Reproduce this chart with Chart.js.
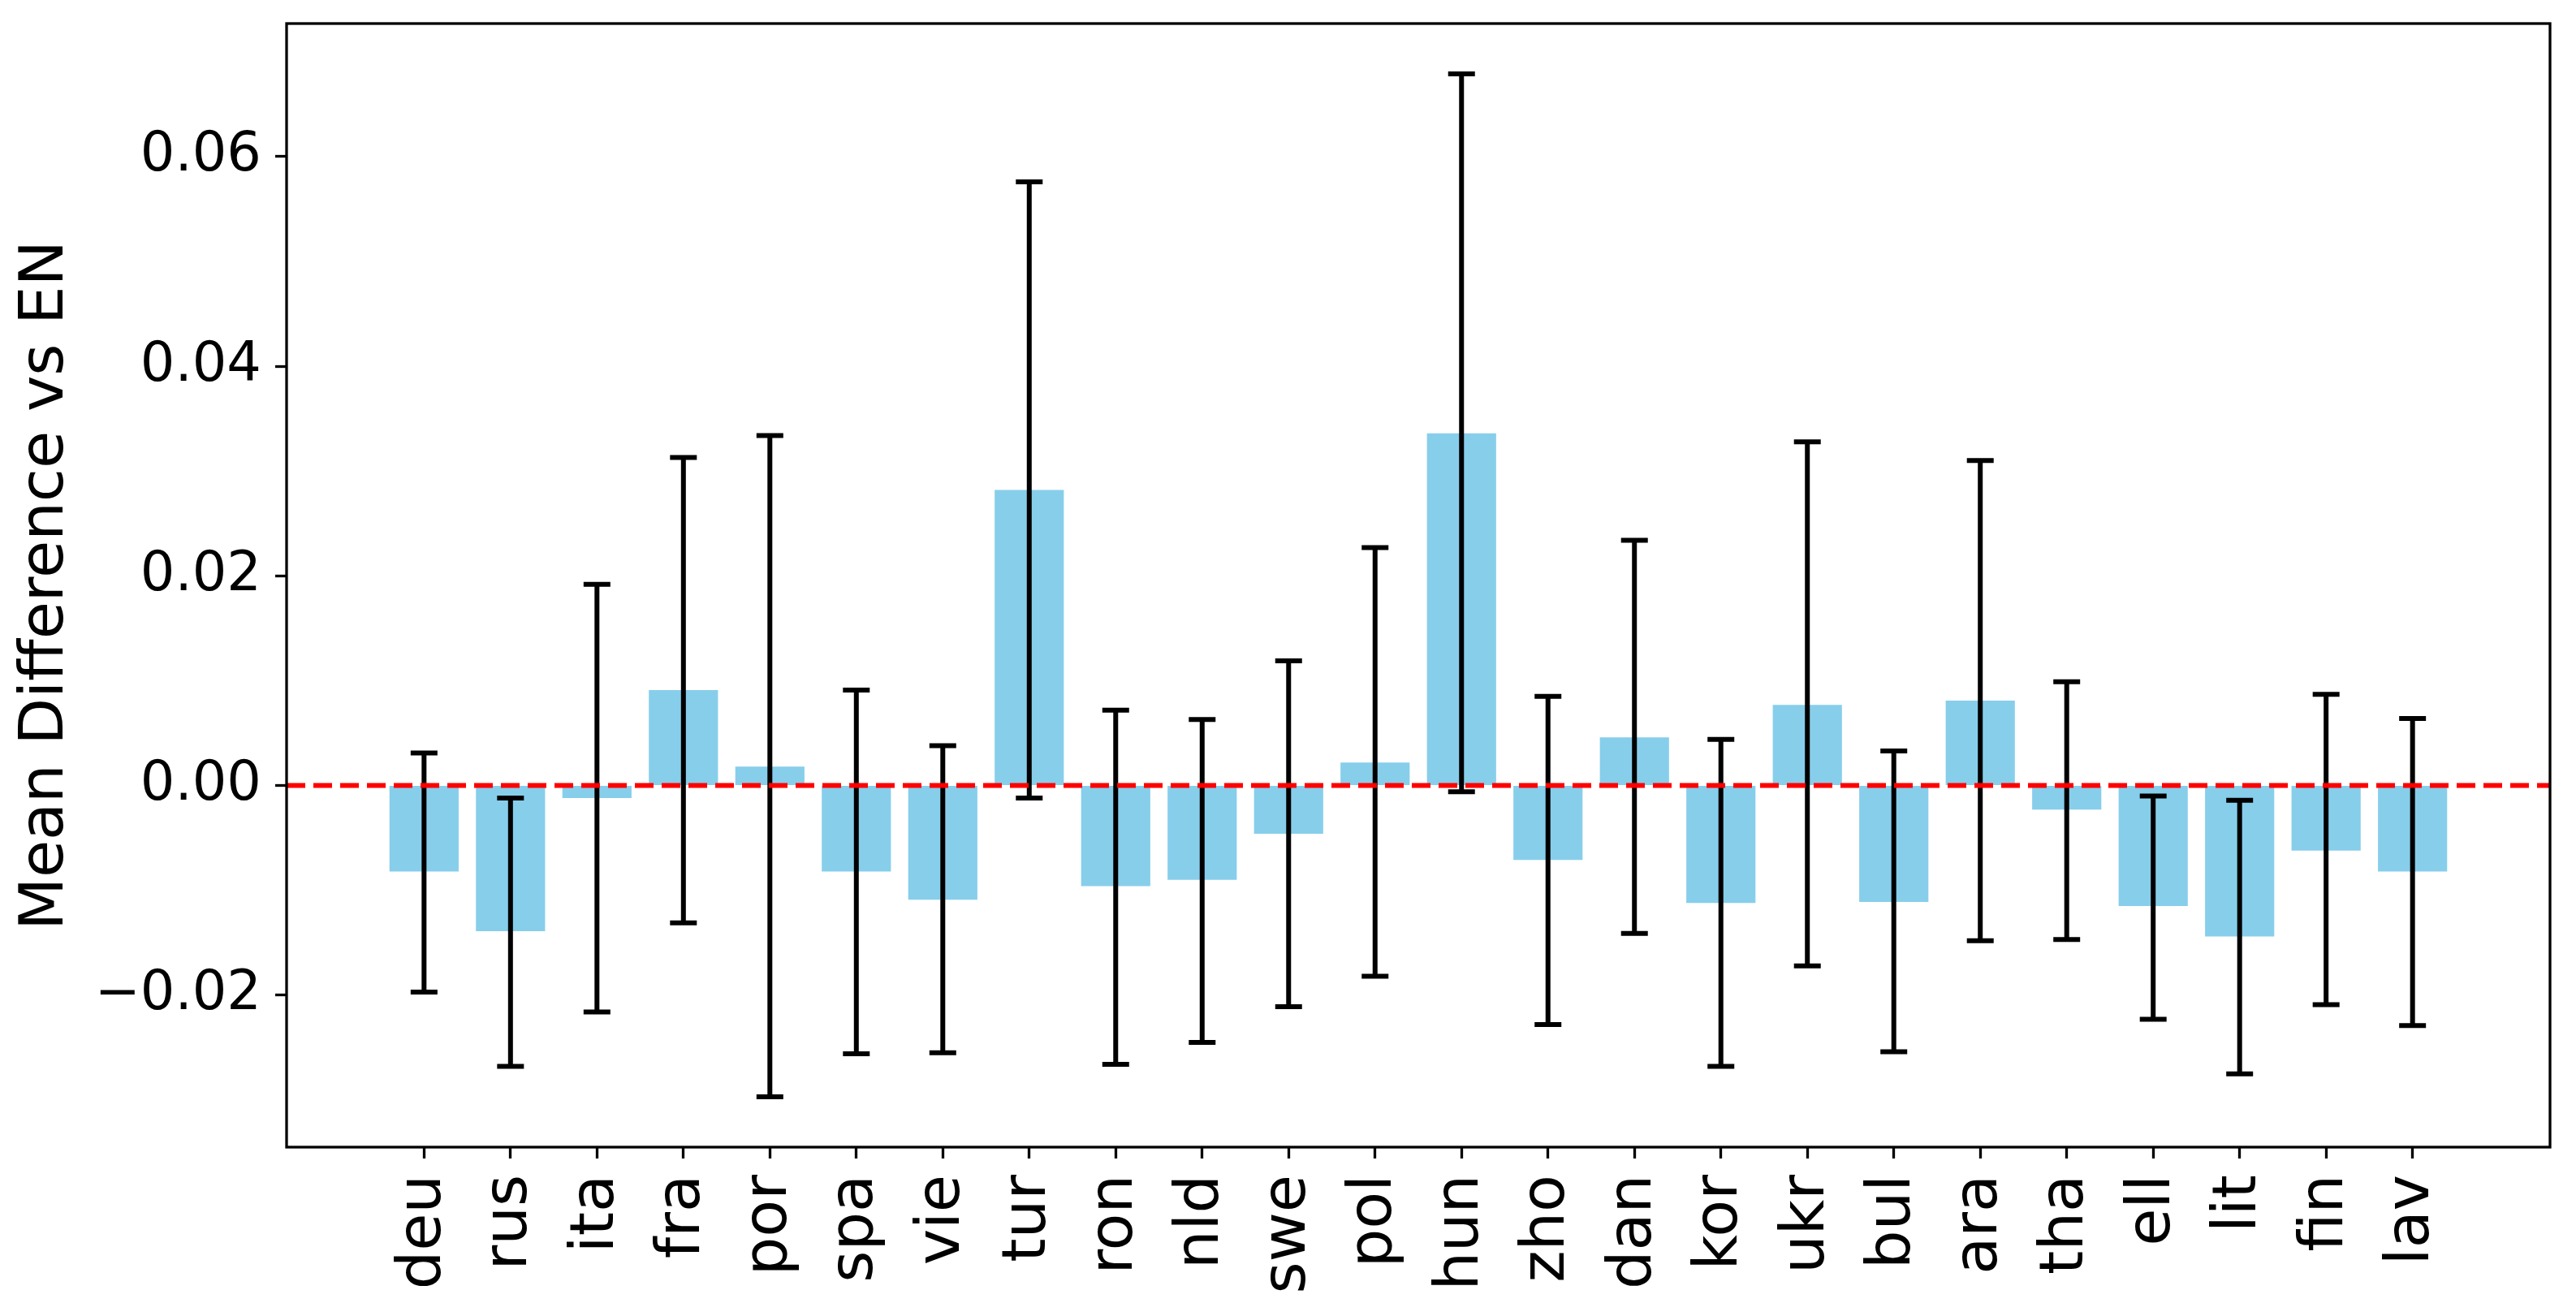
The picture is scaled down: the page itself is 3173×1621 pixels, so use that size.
<!DOCTYPE html>
<html>
<head>
<meta charset="utf-8">
<script src="https://cdn.jsdelivr.net/npm/chart.js@4"></script>
<style>
  html, body { margin: 0; padding: 0; background: #fff; }
  #wrap { width: 3173px; height: 1621px; }
</style>
</head>
<body>
<div id="wrap"><canvas id="myChart" width="3173" height="1621"></canvas></div>
<script>
const langs = ['deu', 'rus', 'ita', 'fra', 'por', 'spa', 'vie', 'tur', 'ron', 'nld', 'swe', 'pol',
               'hun', 'zho', 'dan', 'kor', 'ukr', 'bul', 'ara', 'tha', 'ell', 'lit', 'fin', 'lav'];
const means = [-0.0082, -0.0139, -0.0012, 0.0091, 0.0018, -0.0082, -0.0109, 0.0282, -0.0096, -0.0090, -0.0046, 0.0022,
               0.0336, -0.0071, 0.0046, -0.0112, 0.0077, -0.0111, 0.0081, -0.0023, -0.0115, -0.0144, -0.0062, -0.0082];
const upper = [0.0031, -0.0012, 0.0192, 0.0313, 0.0334, 0.0091, 0.0038, 0.0576, 0.0072, 0.0063, 0.0119, 0.0227,
               0.0679, 0.0085, 0.0234, 0.0044, 0.0328, 0.0033, 0.0310, 0.0099, -0.0010, -0.0014, 0.0087, 0.0064];
const lower = [-0.0197, -0.0268, -0.0216, -0.0131, -0.0297, -0.0256, -0.0255, -0.0012, -0.0266, -0.0245, -0.0211, -0.0182,
               -0.0006, -0.0228, -0.0141, -0.0268, -0.0172, -0.0254, -0.0148, -0.0147, -0.0223, -0.0275, -0.0209, -0.0229];
const yTickValues = [-0.02, 0, 0.02, 0.04, 0.06];
const yTickLabels = ['\u22120.02', '0.00', '0.02', '0.04', '0.06'];

// error bars, zero line and frame
const extras = {
    id: 'extras',
    afterDatasetsDraw(chart) {
        const ctx = chart.ctx;
        const xs = chart.scales.x, ys = chart.scales.y;
        const area = chart.chartArea;
        ctx.save();
        ctx.strokeStyle = '#000';
        ctx.lineWidth = 6;
        const cap = 16.5;
        for (let i = 0; i < langs.length; i++) {
            const x = xs.getPixelForValue(i);
            const yt = ys.getPixelForValue(upper[i]);
            const yb = ys.getPixelForValue(lower[i]);
            ctx.beginPath();
            ctx.moveTo(x, yt); ctx.lineTo(x, yb);
            ctx.moveTo(x - cap, yt); ctx.lineTo(x + cap, yt);
            ctx.moveTo(x - cap, yb); ctx.lineTo(x + cap, yb);
            ctx.stroke();
        }
        // red dashed line at zero
        const y0 = ys.getPixelForValue(0);
        ctx.strokeStyle = 'red';
        ctx.lineWidth = 6;
        ctx.setLineDash([23, 10]);
        ctx.beginPath();
        ctx.moveTo(area.left, y0);
        ctx.lineTo(area.right, y0);
        ctx.stroke();
        ctx.setLineDash([]);
        // frame
        ctx.strokeStyle = '#000';
        ctx.lineWidth = 3.3;
        ctx.strokeRect(area.left, area.top, area.right - area.left, area.bottom - area.top);
        ctx.restore();
    }
};

const ctx = document.getElementById('myChart');
const myChart = new Chart(ctx, {
    type: 'bar',
    data: {
        datasets: [{
            label: 'Mean Difference',
            data: means.map((v, i) => ({ x: i, y: v })),
            backgroundColor: '#87CEEB',
            borderWidth: 0,
            barPercentage: 0.8,
            categoryPercentage: 1.0
        }]
    },
    options: {
        responsive: false,
        animation: false,
        devicePixelRatio: 1,
        layout: { padding: { top: 29, right: 32, left: 0, bottom: 0 } },
        plugins: {
            legend: { display: false },
            tooltip: { enabled: false }
        },
        scales: {
            x: {
                type: 'linear',
                min: -1.59,
                max: 24.59,
                offset: false,
                afterBuildTicks: axis => { axis.ticks = langs.map((_, i) => ({ value: i })); },
                afterFit: axis => { axis.height = 208; axis.paddingLeft = 0; axis.paddingRight = 0; },
                border: { display: false },
                grid: { offset: false, drawOnChartArea: false, drawTicks: true, tickLength: 14, tickWidth: 3.3, tickColor: '#000' },
                ticks: {
                    autoSkip: false,
                    minRotation: 90,
                    maxRotation: 90,
                    padding: 20,
                    color: '#000',
                    font: { family: 'DejaVu Sans', size: 75 },
                    callback: value => langs[value]
                }
            },
            y: {
                min: -0.0345,
                max: 0.0727,
                afterBuildTicks: axis => { axis.ticks = yTickValues.map(v => ({ value: v })); },
                afterFit: axis => { axis.width = 353; axis.paddingTop = 0; axis.paddingBottom = 0; },
                border: { display: false },
                grid: { drawOnChartArea: false, drawTicks: true, tickLength: 14, tickWidth: 3.3, tickColor: '#000' },
                ticks: {
                    padding: 17,
                    color: '#000',
                    font: { family: 'DejaVu Sans', size: 67 },
                    callback: value => yTickLabels[yTickValues.indexOf(value)]
                },
                title: {
                    display: true,
                    text: 'Mean Difference vs EN',
                    color: '#000',
                    font: { family: 'DejaVu Sans', size: 75 },
                    padding: { top: 13, bottom: 0 }
                }
            }
        }
    },
    plugins: [extras]
});
</script>
</body>
</html>
